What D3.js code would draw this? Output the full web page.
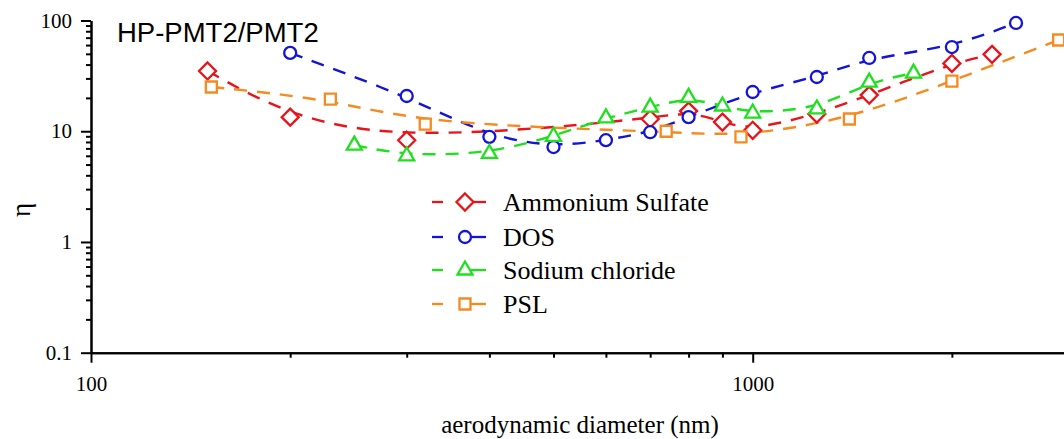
<!DOCTYPE html>
<html>
<head>
<meta charset="utf-8">
<script src="https://cdn.jsdelivr.net/npm/d3@7"></script>
<style>
  html, body { margin: 0; padding: 0; background: #fff; }
  svg { display: block; }
  text { font-family: "Liberation Serif", "Times New Roman", serif; fill: #000; }
</style>
</head>
<body>
<svg id="chart" width="1064" height="439"></svg>
<script>
// Aerodynamic diameter (nm) and efficiency ratio η for each test aerosol
const sulfateD = [150, 200, 300, 700, 800, 900, 1000, 1250, 1500, 2000, 2300];
const sulfateEta = [35, 13.4, 8.3, 12.9, 15.2, 12.1, 10.2, 14.3, 21.2, 41, 49.5];

const dosD = [200, 300, 400, 500, 600, 700, 800, 1000, 1250, 1500, 2000, 2500];
const dosEta = [51, 20.8, 8.9, 7.2, 8.3, 9.8, 13.4, 22.6, 30.9, 45.9, 57.6, 95];

const naclD = [250, 300, 400, 500, 600, 700, 800, 900, 1000, 1250, 1500, 1750];
const naclEta = [7.5, 6.0, 6.3, 9.0, 13.2, 16.5, 20.2, 16.9, 14.6, 15.9, 27.8, 33.5];

const pslD = [152, 230, 320, 740, 960, 1400, 2000, 2900];
const pslEta = [25.1, 19.5, 11.6, 10.0, 8.9, 12.9, 28.4, 66.7];

const seriesNames = ["Ammonium Sulfate", "DOS", "Sodium chloride", "PSL"];
const seriesColors = ["#e8141b", "#1414d6", "#1fe01f", "#f58a1f"];
const seriesSymbols = ["diamond", "circle", "triangle", "square"];

const xMajorTicks = [100, 1000];
const xMinorTicks = [200, 300, 400, 500, 600, 700, 800, 900, 2000, 3000];
const yMajorTicks = [0.1, 1, 10, 100];
const yMinorTicks = [0.2, 0.3, 0.4, 0.5, 0.6, 0.7, 0.8, 0.9,
                     2, 3, 4, 5, 6, 7, 8, 9,
                     20, 30, 40, 50, 60, 70, 80, 90];

const titleText = "HP-PMT2/PMT2";
const xLabel = "aerodynamic diameter (nm)";
const yLabel = "η";

const series = [
  { d: sulfateD, v: sulfateEta },
  { d: dosD, v: dosEta },
  { d: naclD, v: naclEta },
  { d: pslD, v: pslEta }
].map((s, i) => ({
  name: seriesNames[i],
  color: seriesColors[i],
  symbol: seriesSymbols[i],
  points: s.d.map((d, j) => ({ d, v: s.v[j] }))
}));

const svg = d3.select("#chart");
const plotLeft = 91, plotBottom = 352.7, plotTop = 20.5;
const decadeWidth = 661.7;
const serif = '"Liberation Serif", "Times New Roman", serif';

const x = d3.scaleLog().domain([100, 3000])
  .range([plotLeft, plotLeft + decadeWidth * Math.log10(30)]);
const y = d3.scaleLog().domain([0.1, 100]).range([plotBottom, plotTop]);

// Marker shapes
function markerPath(sym) {
  if (sym === "diamond") return "M0,-8.5L8.5,0L0,8.5L-8.5,0Z";
  if (sym === "triangle") return "M0,-8.5L7.5,4.5L-7.5,4.5Z";
  if (sym === "square") return "M-5.5,-5.5L5.5,-5.5L5.5,5.5L-5.5,5.5Z";
  return null;
}
function drawMarker(g, sym, color) {
  if (sym === "circle") {
    g.append("circle").attr("r", 6)
      .attr("fill", "#fff").attr("stroke", color).attr("stroke-width", 2.3);
  } else {
    g.append("path").attr("d", markerPath(sym))
      .attr("fill", "#fff").attr("stroke", color).attr("stroke-width", 2.3)
      .attr("stroke-linejoin", "miter");
  }
}

// Smoothed dashed curves
const line = d3.line()
  .x(p => x(p.d)).y(p => y(p.v))
  .curve(d3.curveBasis);

const plot = svg.append("g");
series.forEach(s => {
  plot.append("path")
    .datum(s.points)
    .attr("d", line)
    .attr("fill", "none")
    .attr("stroke", s.color)
    .attr("stroke-width", 2.4)
    .attr("stroke-dasharray", "13,10");
});
series.forEach(s => {
  s.points.forEach(p => {
    const g = plot.append("g").attr("transform", `translate(${x(p.d)},${y(p.v)})`);
    drawMarker(g, s.symbol, s.color);
  });
});

// Axes
function styleAxis(g) {
  g.attr("font-family", serif).attr("font-size", 21);
  g.select(".domain").attr("stroke", "#000").attr("stroke-width", 2);
  g.selectAll(".tick line").attr("stroke", "#000").attr("stroke-width", 2);
  g.selectAll(".tick text").attr("fill", "#000")
    .attr("font-family", serif).attr("font-size", 21)
    .style("font-family", serif).style("font-size", "21px");
}

svg.append("g").attr("transform", `translate(0,${plotBottom})`)
  .call(d3.axisBottom(x).tickValues(xMinorTicks).tickSize(5).tickSizeOuter(0).tickFormat(""))
  .call(styleAxis);
svg.append("g").attr("transform", `translate(0,${plotBottom})`)
  .call(d3.axisBottom(x).tickValues(xMajorTicks).tickSize(10).tickSizeOuter(0).tickPadding(13).tickFormat(d3.format("d")))
  .call(styleAxis);

svg.append("g").attr("transform", `translate(${plotLeft},0)`)
  .call(d3.axisLeft(y).tickValues(yMinorTicks).tickSize(5).tickSizeOuter(0).tickFormat(""))
  .call(styleAxis);
svg.append("g").attr("transform", `translate(${plotLeft},0)`)
  .call(d3.axisLeft(y).tickValues(yMajorTicks).tickSize(10).tickSizeOuter(0).tickPadding(9)
    .tickFormat(d => d < 1 ? String(d) : d3.format("d")(d)))
  .call(styleAxis);

// Labels
svg.append("text")
  .attr("x", 117).attr("y", 42)
  .style("font-family", '"Liberation Sans", Arial, sans-serif')
  .style("font-size", "27.5px")
  .text(titleText);

svg.append("text")
  .attr("x", 580).attr("y", 433)
  .attr("text-anchor", "middle")
  .style("font-size", "25px")
  .text(xLabel);

svg.append("text")
  .attr("transform", "translate(30,210) rotate(-90)")
  .attr("text-anchor", "middle")
  .style("font-size", "27px")
  .text(yLabel);

// Legend
const legend = svg.append("g");
const rowY = [202, 237, 270, 304];
series.forEach((s, i) => {
  const g = legend.append("g").attr("transform", `translate(0,${rowY[i]})`);
  g.append("line").attr("x1", 432).attr("x2", 443).attr("y1", 0).attr("y2", 0)
    .attr("stroke", s.color).attr("stroke-width", 2.3);
  g.append("line").attr("x1", 466).attr("x2", 486).attr("y1", 0).attr("y2", 0)
    .attr("stroke", s.color).attr("stroke-width", 2.3);
  const m = g.append("g").attr("transform", "translate(465,0)");
  drawMarker(m, s.symbol, s.color);
  g.append("text").attr("x", 503).attr("y", 9)
    .style("font-size", "26px")
    .text(s.name);
});
</script>
</body>
</html>
